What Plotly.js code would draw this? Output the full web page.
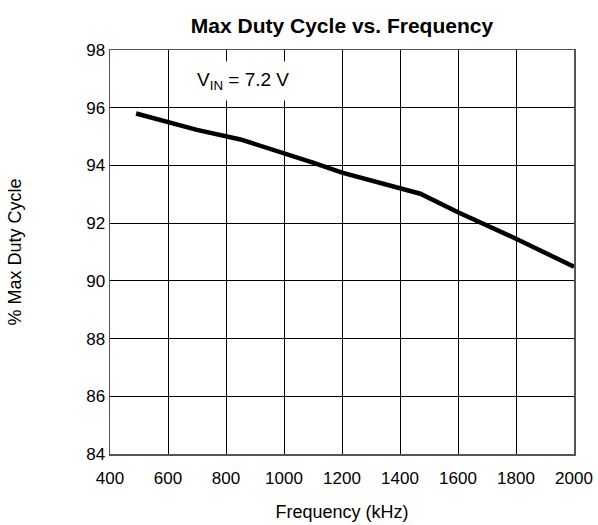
<!DOCTYPE html>
<html>
<head>
<meta charset="utf-8">
<script src="https://cdn.plot.ly/plotly-3.0.1.min.js"></script>
<style>html,body{margin:0;padding:0;background:#fff;}#chart{width:598px;height:525px;}</style>
</head>
<body>
<div id="chart"></div>
<script>
var frequencyKHz = [490, 600, 700, 850, 1000, 1100, 1200, 1300, 1470, 1600, 1700, 1800, 2000];
var maxDutyCycle = [95.8, 95.5, 95.23, 94.9, 94.43, 94.1, 93.75, 93.48, 93.02, 92.38, 91.93, 91.46, 90.49];
var xTicks = [400, 600, 800, 1000, 1200, 1400, 1600, 1800, 2000];
var yTicks = [84, 86, 88, 90, 92, 94, 96, 98];

var FONT = 'Liberation Sans, Arial, Helvetica, sans-serif';

var trace = {
  x: frequencyKHz,
  y: maxDutyCycle,
  type: 'scatter',
  mode: 'lines',
  line: {color: '#000', width: 4.5, shape: 'linear'},
  hoverinfo: 'skip'
};

var layout = {
  width: 598,
  height: 525,
  margin: {l: 110, r: 24, t: 50, b: 71},
  paper_bgcolor: '#fff',
  plot_bgcolor: '#fff',
  showlegend: false,
  font: {family: FONT, color: '#000', size: 17},
  title: {
    text: '<b>Max Duty Cycle vs. Frequency</b>',
    font: {family: FONT, size: 21, color: '#000'},
    xref: 'paper', x: 0.5, xanchor: 'center',
    yref: 'container', y: 1 - 26 / 525, yanchor: 'middle'
  },
  xaxis: {
    range: [400, 2000],
    tickvals: xTicks,
    ticktext: xTicks.map(String),
    ticks: 'outside', ticklen: 8, tickcolor: 'rgba(0,0,0,0)',
    showgrid: true, gridcolor: '#000', gridwidth: 1,
    showline: true, linecolor: '#555', linewidth: 1.5, mirror: true,
    zeroline: false,
    tickfont: {family: FONT, size: 17, color: '#000'},
    title: {text: 'Frequency (kHz)', font: {family: FONT, size: 18, color: '#000'}, standoff: 18}
  },
  yaxis: {
    range: [84, 98],
    tickvals: yTicks,
    ticktext: yTicks.map(String),
    ticks: '', 
    showgrid: true, gridcolor: '#000', gridwidth: 1,
    showline: true, linecolor: '#555', linewidth: 1.5, mirror: true,
    zeroline: false,
    tickfont: {family: FONT, size: 17, color: '#000'},
    title: {text: '% Max Duty Cycle', font: {family: FONT, size: 18, color: '#000'}, standoff: 60}
  },
  annotations: [{
    text: 'V<sub>IN</sub> = 7.2 V',
    x: 858, y: 96.94, xref: 'x', yref: 'y',
    showarrow: false,
    bgcolor: '#fff',
    borderpad: 7,
    font: {family: FONT, size: 19, color: '#000'}
  }]
};

Plotly.newPlot('chart', [trace], layout, {displayModeBar: false, staticPlot: true});
</script>
</body>
</html>
